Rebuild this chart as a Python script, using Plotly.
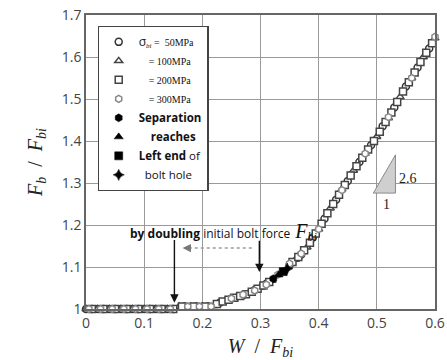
import plotly.graph_objects as go

# ---------------- data ----------------
x50 = [0.00, 0.01, 0.02, 0.03, 0.04, 0.05, 0.06, 0.07, 0.08, 0.09, 0.10, 0.11, 0.12, 0.13, 0.14, 0.15,
       0.17, 0.19, 0.21, 0.23, 0.25, 0.27, 0.29, 0.31, 0.35, 0.37, 0.39, 0.41, 0.43, 0.45, 0.47, 0.49,
       0.51, 0.53, 0.55, 0.57, 0.59]
y50 = [1.0, 1.0, 1.0, 1.0, 1.0, 1.0, 1.0, 1.0, 1.0, 1.0, 1.0, 1.0, 1.0, 1.0, 1.0, 1.0,
       1.006, 1.006, 1.006, 1.015, 1.025, 1.033, 1.045, 1.06, 1.105, 1.13, 1.17, 1.215, 1.26, 1.305, 1.35, 1.39,
       1.435, 1.48, 1.53, 1.575, 1.62]

x100 = [0.00, 0.02, 0.04, 0.06, 0.08, 0.10, 0.12, 0.14,
        0.16, 0.18, 0.20, 0.22, 0.24, 0.26, 0.28, 0.30, 0.32,
        0.36, 0.38, 0.40, 0.42, 0.44, 0.46, 0.48, 0.50, 0.52, 0.54, 0.56, 0.58, 0.60]
y100 = [1.0, 1.0, 1.0, 1.0, 1.0, 1.0, 1.0, 1.0,
        1.006, 1.006, 1.006, 1.008, 1.02, 1.03, 1.038, 1.052, 1.068,
        1.118, 1.147, 1.19, 1.24, 1.285, 1.33, 1.37, 1.41, 1.455, 1.505, 1.55, 1.60, 1.645]

x200 = [0.01, 0.03, 0.05, 0.07, 0.09, 0.11, 0.13, 0.15,
        0.165, 0.185, 0.205,
        0.225, 0.235, 0.245, 0.255, 0.265, 0.275, 0.285, 0.295, 0.305, 0.315,
        0.355, 0.365, 0.375, 0.385, 0.395, 0.405, 0.415, 0.425, 0.435, 0.445, 0.455, 0.465,
        0.475, 0.485, 0.495, 0.505, 0.515, 0.525, 0.535, 0.545, 0.555, 0.565, 0.575, 0.585, 0.595]
y200 = [1.0, 1.0, 1.0, 1.0, 1.0, 1.0, 1.0, 1.0,
        1.006, 1.006, 1.006,
        1.012, 1.018, 1.022, 1.027, 1.031, 1.035, 1.041, 1.048, 1.056, 1.064,
        1.112, 1.124, 1.14, 1.158, 1.18, 1.203, 1.228, 1.25, 1.272, 1.295, 1.318, 1.34,
        1.36, 1.38, 1.40, 1.422, 1.445, 1.468, 1.493, 1.518, 1.54, 1.563, 1.588, 1.61, 1.633]

x300 = [0.005, 0.025, 0.045, 0.065, 0.085, 0.105, 0.125, 0.145,
        0.175, 0.195, 0.215,
        0.25, 0.27, 0.29, 0.31, 0.33, 0.35, 0.37, 0.40, 0.44, 0.48, 0.52, 0.56, 0.60]
y300 = [1.0, 1.0, 1.0, 1.0, 1.0, 1.0, 1.0, 1.0,
        1.006, 1.006, 1.006,
        1.025, 1.034, 1.044, 1.058, 1.082, 1.108, 1.132, 1.19, 1.283, 1.37, 1.457, 1.55, 1.648]

# points where separation reaches the left end of the bolt hole (one per stress level)
sep_x = [0.322, 0.331, 0.339, 0.346]
sep_y = [1.072, 1.081, 1.089, 1.096]

x_ticks = [0, 0.1, 0.2, 0.3, 0.4, 0.5, 0.6]
x_tick_labels = ["0", "0.1", "0.2", "0.3", "0.4", "0.5", "0.6"]
y_ticks = [1.0, 1.1, 1.2, 1.3, 1.4, 1.5, 1.6, 1.7]
y_tick_labels = ["1", "1.1", "1.2", "1.3", "1.4", "1.5", "1.6", "1.7"]

# ---------------- figure ----------------
SERIF = "Liberation Serif"
SANS = "Open Sans"
NB = "\u00a0"

open_names = [
    f'<span style="font-family:{SANS};font-size:12px">σ</span><sub><i>bi</i></sub> ={NB}{NB}50MPa',
    f'{NB * 4}= 100MPa',
    f'{NB * 4}= 200MPa',
    f'{NB * 4}= 300MPa',
]
open_series = [
    (x50, y50, "circle", "#333333"),
    (x100, y100, "triangle-up", "#444444"),
    (x200, y200, "square", "#444444"),
    (x300, y300, "hexagon", "#888888"),
]

fig = go.Figure()
for name, (xs, ys, sym, col) in zip(open_names, open_series):
    fig.add_trace(go.Scatter(
        x=xs, y=ys, mode="markers", name=name,
        marker=dict(symbol=sym, size=7, color="white", line=dict(color=col, width=1.5)),
        cliponaxis=False,
    ))

SEP_STYLE = f"font-family:{SANS};font-size:11.5px"
sep_names = [
    f'<span style="{SEP_STYLE}"><b>Separation</b></span>',
    f'<span style="{SEP_STYLE}">{NB * 4}<b>reaches</b></span>',
    f'<span style="{SEP_STYLE}"><b>Left end</b> of</span>',
    f'<span style="{SEP_STYLE}">{NB * 2}bolt hole</span>',
]
sep_symbols = ["hexagon", "triangle-up", "square", "star-diamond"]
for i in range(4):
    fig.add_trace(go.Scatter(
        x=[sep_x[i]], y=[sep_y[i]], mode="markers", name=sep_names[i],
        marker=dict(symbol=sep_symbols[i], size=8, color="black", line=dict(color="black", width=0.5)),
    ))

axis_common = dict(
    showgrid=True, gridcolor="#9a9a9a", gridwidth=1,
    showline=True, linecolor="#666666", linewidth=1.5, mirror=True,
    zeroline=False, ticks="", automargin=False,
    tickfont=dict(family=SANS, size=14, color="#444444"),
)

fig.update_layout(
    width=447, height=360,
    margin=dict(l=85.5, r=12, t=15, b=51),
    paper_bgcolor="white", plot_bgcolor="white",
    xaxis=dict(range=[0, 0.6], tickvals=x_ticks, ticktext=x_tick_labels,
               title=dict(text=f"<i>W</i>{NB}{NB}/{NB}{NB}<i>F</i><sub><i>bi</i></sub>",
                          font=dict(family=SERIF, size=20, color="#222222"), standoff=12),
               **axis_common),
    yaxis=dict(range=[1, 1.7], tickvals=y_ticks, ticktext=y_tick_labels,
               title=dict(text=f"<i>F</i><sub><i>b</i></sub>{NB}{NB}/{NB}{NB}<i>F</i><sub><i>bi</i></sub>",
                          font=dict(family=SERIF, size=20, color="#222222"), standoff=14),
               **axis_common),
    legend=dict(
        x=0.033, y=0.962, xanchor="left", yanchor="top",
        bgcolor="white", bordercolor="#444444", borderwidth=1.2,
        font=dict(family=SERIF, size=10, color="#111111"),
        itemsizing="trace", tracegroupgap=0, itemwidth=30,
    ),
    showlegend=True,
)

# annotation text
fig.add_annotation(
    x=0.072, y=1.183, xref="x", yref="y", xanchor="left", yanchor="middle", showarrow=False,
    text=(f'<span style="font-family:{SANS};font-size:12px"><b>by doubling</b> initial bolt force</span>'
          f'<span style="font-family:{SERIF};font-size:20px"><i>{NB}F</i></span>'
          f'<sub><span style="font-family:{SERIF};font-size:12px"><i>bi</i></span></sub>'),
    font=dict(color="#111111"),
)
# black arrows
for ax_, ay_, hx, hy in [(0.152, 1.168, 0.152, 1.015), (0.298, 1.166, 0.298, 1.088)]:
    fig.add_annotation(x=hx, y=hy, ax=ax_, ay=ay_, xref="x", yref="y", axref="x", ayref="y",
                       showarrow=True, arrowhead=2, arrowsize=1.2, arrowwidth=1.4,
                       arrowcolor="#111111", text="")
# dashed grey arrow
fig.add_shape(type="line", x0=0.285, y0=1.145, x1=0.178, y1=1.145, xref="x", yref="y",
              line=dict(color="#9a9a9a", width=1.5, dash="dot"))
fig.add_annotation(x=0.166, y=1.145, ax=0.182, ay=1.145, xref="x", yref="y", axref="x", ayref="y",
                   showarrow=True, arrowhead=2, arrowsize=1.2, arrowwidth=1.4,
                   arrowcolor="#777777", text="")

# slope triangle
fig.add_shape(type="path", xref="x", yref="y",
              path="M 0.494 1.276 L 0.532 1.367 L 0.532 1.276 Z",
              fillcolor="#cfcfcf", line=dict(color="#8a8a8a", width=1))
fig.add_annotation(x=0.553, y=1.31, xref="x", yref="y", text="2.6", showarrow=False,
                   font=dict(family=SERIF, size=14, color="#222222"))
fig.add_annotation(x=0.516, y=1.248, xref="x", yref="y", text="1", showarrow=False,
                   font=dict(family=SERIF, size=14, color="#222222"))

fig.write_html("out.html")
